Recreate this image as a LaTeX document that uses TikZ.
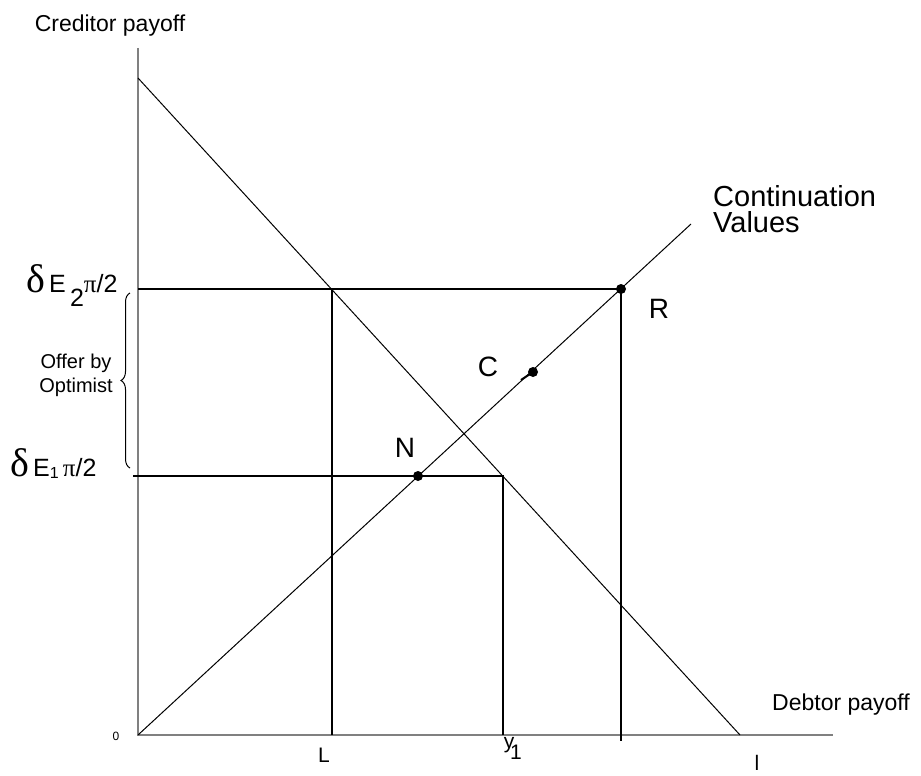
\documentclass[tikz,border=0pt]{standalone}
\usepackage{fontspec}
\setmainfont{Liberation Sans}
\newfontfamily\greekfont{Liberation Serif}
\usetikzlibrary{positioning, calc, decorations.pathreplacing}
\tikzset{
    axisline/.style = {draw, black!50, line width=2pt},
    thinline/.style = {draw, line width=1pt},
    thickline/.style = {draw, line width=2pt},
    pointdot/.style = {circle, fill, inner sep=0pt, minimum size=10pt},
    axislabel/.style = {inner sep=0pt, font=\fontsize{23}{26}\selectfont},
    pointlabel/.style = {inner sep=0pt, font=\fontsize{28}{30}\selectfont},
    ticklabel/.style = {inner sep=0pt, font=\fontsize{21}{22}\selectfont},
    deltalabel/.style = {inner sep=0pt, anchor=base west, font=\fontsize{25}{25}\selectfont},
    offerbrace/.style = {draw, decorate, decoration={brace, amplitude=9pt}, line width=1pt}
}

\begin{document}
\begin{tikzpicture}[x=1pt, y=-1pt]
        \useasboundingbox (0,0) rectangle (921,776);
        % Points
        \coordinate (origin) at (138,735);
        \coordinate (ytop) at (138,48);
        \coordinate (xend) at (833,735);
        \coordinate (ftop) at (138,78);
        \coordinate (fbot) at (740,735);
        \coordinate (cvend) at (691,224);
        \coordinate (high) at (138,289);
        \coordinate (low) at (133,476);
        \coordinate (Ltop) at (332,289);
        \coordinate (Lbot) at (332,735);
        \coordinate (ytop1) at (503,476);
        \coordinate (ybot1) at (503,735);
        \coordinate (Rbot) at (621,741);
        \coordinate (ctick) at (521,380);
        \coordinate (bracelow) at (130,468);
        \coordinate (bracehigh) at (130,293);
        \node [pointdot] (N) at (418,476) {};
        \node [pointdot] (C) at (533,372) {};
        \node [pointdot] (R) at (621,289) {};

        % Axes
        \path [axisline] (ytop) -- (origin) -- (xend);

        % Lines
        \path [thinline] (ftop) -- (fbot);
        \path [thinline] (origin) -- (cvend);
        \path [thickline] (high) -- (R.center);
        \path [thickline] (Ltop) -- (Lbot);
        \path [thickline] (R.center) -- (Rbot);
        \path [thickline] (low) -- (N.center);
        \path [draw, line width=1.5pt] (N.center) -- (ytop1) -- (ybot1);
        \path [draw, line width=2pt] (ctick) -- (C.center);
        \path [offerbrace] (bracelow) -- (bracehigh);

        % Labels
        \node [axislabel] (creditor) at (110,26) {Creditor payoff};
        \node [axislabel, anchor=west] (debtor) at (772,705) {Debtor payoff};
        \node [inner sep=0pt, font=\fontsize{12}{12}\selectfont] (zero) at (116,736) {0};
        \node [inner sep=0pt, align=left, anchor=west, font=\fontsize{29}{26}\selectfont] (contval) at (713,209) {Continuation\\Values};
        \node [pointlabel] (Nlabel) at (405,448) {N};
        \node [pointlabel] (Clabel) at (488,367) {C};
        \node [pointlabel] (Rlabel) at (659,309) {R};
        \node [inner sep=0pt, align=center, font=\fontsize{20}{24}\selectfont] (offer) at (76,375) {Offer by\\Optimist};
        \node [deltalabel] (deltatwo) at (26,292)
            {{\greekfont\fontsize{40}{40}\selectfont δ}\,E\,\raisebox{-14pt}{2}{\greekfont π}/2};
        \node [deltalabel] (deltaone) at (10,476)
            {{\greekfont\fontsize{40}{40}\selectfont δ}\,E{\fontsize{16}{16}\selectfont\raisebox{-2pt}{1}}\,{\greekfont π}/2};
        \node [ticklabel] (Llabel) at (324,755) {L};
        \node [ticklabel] (ylabel) at (509,745) {y};
        \node [ticklabel] (onelabel) at (516,752) {1};
        \node [ticklabel] (llabel) at (757,763) {l};
    \end{tikzpicture}
\end{document}
